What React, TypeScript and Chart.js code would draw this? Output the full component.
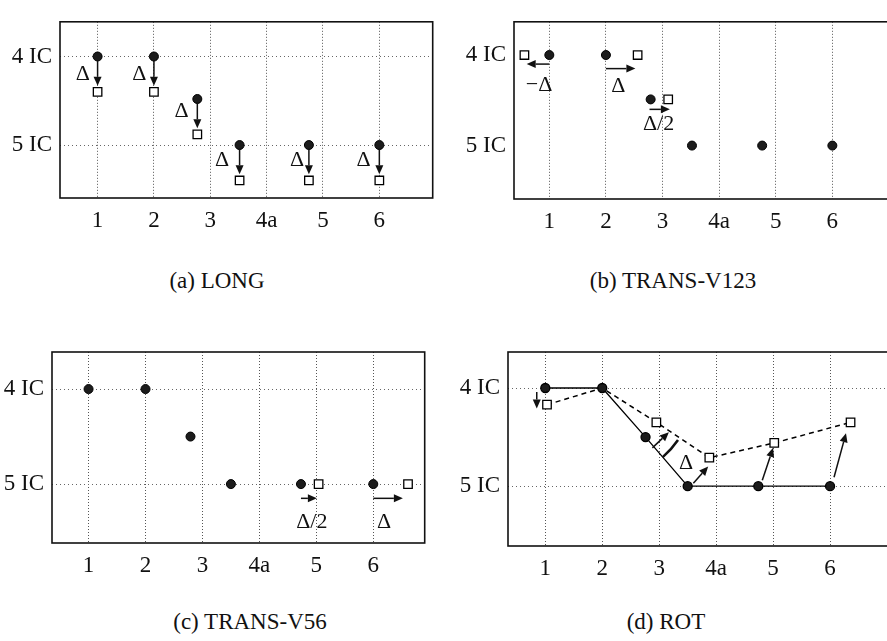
import React, { useEffect, useRef } from 'react';
import { Chart, registerables } from 'chart.js';

Chart.register(...registerables);

// ---------- shared axis data ----------
const xTickValues = [1, 2, 3, 4, 5, 6];
const xTickLabels = ['1', '2', '3', '4a', '5', '6'];
const yTickValues = [4, 5];
const yTickLabels = ['4 IC', '5 IC'];
const captions = ['(a) LONG', '(b) TRANS-V123', '(c) TRANS-V56', '(d) ROT'];

// ---------- (a) LONG ----------
const longRestX = [1, 2, 2.77, 3.52, 4.75, 6];
const longRestY = [4, 4, 4.48, 5, 5, 5];
const longMovedX = [1, 2, 2.77, 3.52, 4.75, 6];
const longMovedY = [4.4, 4.4, 4.88, 5.4, 5.4, 5.4];
const longLabelX = [0.74, 1.74, 2.49, 3.21, 4.54, 5.72];
const longLabelY = [4.2, 4.2, 4.62, 5.17, 5.17, 5.17];
const longLabelText = ['Δ', 'Δ', 'Δ', 'Δ', 'Δ', 'Δ'];

// ---------- (b) TRANS-V123 ----------
const v123RestX = [1, 2, 2.79, 3.52, 4.76, 6];
const v123RestY = [4, 4, 4.49, 5, 5, 5];
const v123MovedX = [0.56, 2.56, 3.1];
const v123MovedY = [4, 4, 4.49];
const v123ArrowFromX = [1.0, 2.0, 2.77];
const v123ArrowToX = [0.6, 2.52, 3.13];
const v123ArrowY = [4.1, 4.15, 4.6];
const v123LabelText = ['−Δ', 'Δ', 'Δ/2'];
const v123LabelX = [0.82, 2.22, 2.93];
const v123LabelY = [4.33, 4.34, 4.76];

// ---------- (c) TRANS-V56 ----------
const v56RestX = [1, 2, 2.79, 3.5, 4.73, 6];
const v56RestY = [4, 4, 4.5, 5, 5, 5];
const v56MovedX = [5.04, 6.61];
const v56MovedY = [5, 5];
const v56ArrowFromX = [4.73, 6.0];
const v56ArrowToX = [5.01, 6.52];
const v56ArrowY = [5.15, 5.15];
const v56LabelText = ['Δ/2', 'Δ'];
const v56LabelX = [4.92, 6.19];
const v56LabelY = [5.4, 5.4];

// ---------- (d) ROT ----------
const rotRestX = [1, 2, 2.76, 3.5, 4.74, 6];
const rotRestY = [4, 4, 4.5, 5, 5, 5];
const rotMovedX = [1.03, 2, 2.95, 3.88, 5.02, 6.36];
const rotMovedY = [4.17, 4, 4.35, 4.71, 4.56, 4.35];
const rotMovedRadius = [6, 0, 6, 6, 6, 6];
const rotArrowX1 = [0.85, 2.88, 3.6, 4.81, 6.07];
const rotArrowY1 = [4.04, 4.61, 4.97, 4.94, 4.91];
const rotArrowX2 = [0.85, 3.17, 3.86, 5.0, 6.28];
const rotArrowY2 = [4.21, 4.45, 4.8, 4.61, 4.46];
const rotLabelText = ['Δ'];
const rotLabelX = [3.47];
const rotLabelY = [4.77];
const rotArcCenter = [2, 4];
const rotArcFrom = [3.33, 4.53];
const rotArcTo = [3.07, 4.71];

const SERIF = "'Liberation Serif', 'Times New Roman', serif";

type Arrow = [number, number, number, number];
type Label = { text: string; x: number; y: number };

function pts(xs: number[], ys: number[]) {
  return xs.map((x, i) => ({ x, y: ys[i] }));
}

function drawArrow(ctx: CanvasRenderingContext2D, x1: number, y1: number, x2: number, y2: number) {
  const ang = Math.atan2(y2 - y1, x2 - x1);
  const len = 9;
  const hw = 4;
  const bx = x2 - len * Math.cos(ang);
  const by = y2 - len * Math.sin(ang);
  ctx.beginPath();
  ctx.moveTo(x1, y1);
  ctx.lineTo(bx, by);
  ctx.lineWidth = 1.5;
  ctx.strokeStyle = '#111';
  ctx.stroke();
  ctx.beginPath();
  ctx.moveTo(x2, y2);
  ctx.lineTo(bx + hw * Math.sin(ang), by - hw * Math.cos(ang));
  ctx.lineTo(bx - hw * Math.sin(ang), by + hw * Math.cos(ang));
  ctx.closePath();
  ctx.fillStyle = '#111';
  ctx.fill();
}

function makeOverlay(arrows: Arrow[], labels: Label[], arc?: { c: number[]; from: number[]; to: number[] }) {
  return {
    id: 'overlay',
    afterDatasetsDraw(chart: any) {
      const { ctx, chartArea } = chart;
      const xs = chart.scales.x;
      const ys = chart.scales.y;
      const px = (v: number) => xs.getPixelForValue(v);
      const py = (v: number) => ys.getPixelForValue(v);
      ctx.save();
      arrows.forEach((a) => drawArrow(ctx, px(a[0]), py(a[1]), px(a[2]), py(a[3])));
      ctx.fillStyle = '#111';
      ctx.font = `22px ${SERIF}`;
      ctx.textAlign = 'center';
      ctx.textBaseline = 'middle';
      labels.forEach((l) => ctx.fillText(l.text, px(l.x), py(l.y)));
      if (arc) {
        const cx = px(arc.c[0]);
        const cy = py(arc.c[1]);
        const fx = px(arc.from[0]) - cx;
        const fy = py(arc.from[1]) - cy;
        const tx = px(arc.to[0]) - cx;
        const ty = py(arc.to[1]) - cy;
        const r = Math.hypot(fx, fy);
        ctx.beginPath();
        ctx.arc(cx, cy, r, Math.atan2(fy, fx), Math.atan2(ty, tx), false);
        ctx.lineWidth = 2.5;
        ctx.strokeStyle = '#111';
        ctx.stroke();
      }
      ctx.lineWidth = 1.6;
      ctx.strokeStyle = '#111';
      ctx.strokeRect(chartArea.left, chartArea.top, chartArea.right - chartArea.left, chartArea.bottom - chartArea.top);
      ctx.restore();
    },
  };
}

type Panel = {
  left: number; top: number; width: number; height: number;
  yAxisWidth: number; xAxisHeight: number; padTop: number; padRight: number;
  xMin: number; xMax: number; yMin: number; yMax: number;
  yGrid: boolean; datasets: any[]; plugin: any;
};

const circleStyle = {
  pointStyle: 'circle', pointRadius: 4.5, backgroundColor: '#1c1c1c', borderColor: '#000', borderWidth: 1,
};
const squareStyle = {
  pointStyle: 'rect', pointRadius: 6, backgroundColor: '#fff', borderColor: '#000', borderWidth: 1.3,
};

const panels: Panel[] = [
  {
    left: 0, top: 0, width: 440, height: 245, yAxisWidth: 60, xAxisHeight: 47, padTop: 5, padRight: 3,
    xMin: 0.333, xMax: 6.947, yMin: 3.608, yMax: 5.598, yGrid: true,
    datasets: [
      { ...circleStyle, data: pts(longRestX, longRestY), showLine: false },
      { ...squareStyle, data: pts(longMovedX, longMovedY), showLine: false },
    ],
    plugin: makeOverlay(
      longRestX.map((x, i) => [x, longRestY[i] + 0.04, longMovedX[i], longMovedY[i] - 0.07] as Arrow),
      longLabelText.map((t, i) => ({ text: t, x: longLabelX[i], y: longLabelY[i] })),
    ),
  },
  {
    left: 450, top: 0, width: 450, height: 245, yAxisWidth: 64, xAxisHeight: 46, padTop: 7, padRight: 0,
    xMin: 0.376, xMax: 7.066, yMin: 3.633, yMax: 5.59, yGrid: false,
    datasets: [
      { ...circleStyle, data: pts(v123RestX, v123RestY), showLine: false },
      { ...squareStyle, data: pts(v123MovedX, v123MovedY), showLine: false },
    ],
    plugin: makeOverlay(
      v123ArrowFromX.map((x, i) => [x, v123ArrowY[i], v123ArrowToX[i], v123ArrowY[i]] as Arrow),
      v123LabelText.map((t, i) => ({ text: t, x: v123LabelX[i], y: v123LabelY[i] })),
    ),
  },
  {
    left: 0, top: 330, width: 432, height: 255, yAxisWidth: 52, xAxisHeight: 42, padTop: 22, padRight: 3,
    xMin: 0.358, xMax: 6.903, yMin: 3.61, yMax: 5.62, yGrid: true,
    datasets: [
      { ...circleStyle, data: pts(v56RestX, v56RestY), showLine: false },
      { ...squareStyle, data: pts(v56MovedX, v56MovedY), showLine: false },
    ],
    plugin: makeOverlay(
      v56ArrowFromX.map((x, i) => [x, v56ArrowY[i], v56ArrowToX[i], v56ArrowY[i]] as Arrow),
      v56LabelText.map((t, i) => ({ text: t, x: v56LabelX[i], y: v56LabelY[i] })),
    ),
  },
  {
    left: 440, top: 330, width: 460, height: 255, yAxisWidth: 68, xAxisHeight: 39, padTop: 22, padRight: 0,
    xMin: 0.345, xMax: 7.1, yMin: 3.633, yMax: 5.61, yGrid: true,
    datasets: [
      { ...circleStyle, data: pts(rotRestX, rotRestY), showLine: true, borderWidth: 1.3 },
      {
        ...squareStyle, data: pts(rotMovedX, rotMovedY), showLine: true, borderDash: [5, 4], borderWidth: 1.5,
        pointRadius: rotMovedRadius, pointBorderWidth: 1.3,
      },
    ],
    plugin: makeOverlay(
      rotArrowX1.map((x, i) => [x, rotArrowY1[i], rotArrowX2[i], rotArrowY2[i]] as Arrow),
      rotLabelText.map((t, i) => ({ text: t, x: rotLabelX[i], y: rotLabelY[i] })),
      { c: rotArcCenter, from: rotArcFrom, to: rotArcTo },
    ),
  },
];

const captionPos = [
  { cx: 217, top: 267 },
  { cx: 673, top: 267 },
  { cx: 250, top: 608 },
  { cx: 666, top: 608 },
];

function PanelChart({ p }: { p: Panel }) {
  const ref = useRef<HTMLCanvasElement | null>(null);
  useEffect(() => {
    if (!ref.current) return;
    const font = { family: SERIF, size: 23 };
    const chart = new Chart(ref.current, {
      type: 'scatter',
      data: { datasets: p.datasets },
      plugins: [p.plugin],
      options: {
        responsive: false,
        maintainAspectRatio: false,
        animation: false,
        devicePixelRatio: 1,
        layout: { padding: { top: p.padTop, right: p.padRight, left: 0, bottom: 0 } },
        plugins: { legend: { display: false }, tooltip: { enabled: false } },
        scales: {
          x: {
            type: 'linear', min: p.xMin, max: p.xMax,
            afterBuildTicks: (s: any) => { s.ticks = xTickValues.map((v) => ({ value: v })); },
            afterFit: (s: any) => { s.height = p.xAxisHeight; },
            ticks: {
              callback: (_v: any, i: number) => xTickLabels[i] ?? '',
              font, color: '#111', padding: 9, autoSkip: false, maxRotation: 0,
            },
            grid: { color: '#555', lineWidth: 1, drawTicks: false },
            border: { display: false, dash: [1, 2] },
          },
          y: {
            type: 'linear', reverse: true, min: p.yMin, max: p.yMax,
            afterBuildTicks: (s: any) => { s.ticks = yTickValues.map((v) => ({ value: v })); },
            afterFit: (s: any) => { s.width = p.yAxisWidth; },
            ticks: {
              callback: (_v: any, i: number) => yTickLabels[i] ?? '',
              font, color: '#111', padding: 8, autoSkip: false,
            },
            grid: { display: p.yGrid, color: '#666', lineWidth: 1, drawTicks: false },
            border: { display: false, dash: [1, 3] },
          },
        },
      } as any,
    });
    return () => chart.destroy();
  }, [p]);
  return (
    <canvas
      ref={ref}
      width={p.width}
      height={p.height}
      style={{ position: 'absolute', left: p.left, top: p.top, width: p.width, height: p.height }}
    />
  );
}

export default function App() {
  return (
    <div style={{ position: 'fixed', left: 0, top: 0, width: 887, height: 641, overflow: 'hidden', background: '#fff' }}>
      {panels.map((p, i) => <PanelChart key={i} p={p} />)}
      {captions.map((c, i) => (
        <div
          key={c}
          style={{
            position: 'absolute', left: captionPos[i].cx - 150, top: captionPos[i].top, width: 300,
            textAlign: 'center', fontFamily: SERIF, fontSize: 23, lineHeight: '28px', color: '#111',
          }}
        >
          {c}
        </div>
      ))}
    </div>
  );
}
